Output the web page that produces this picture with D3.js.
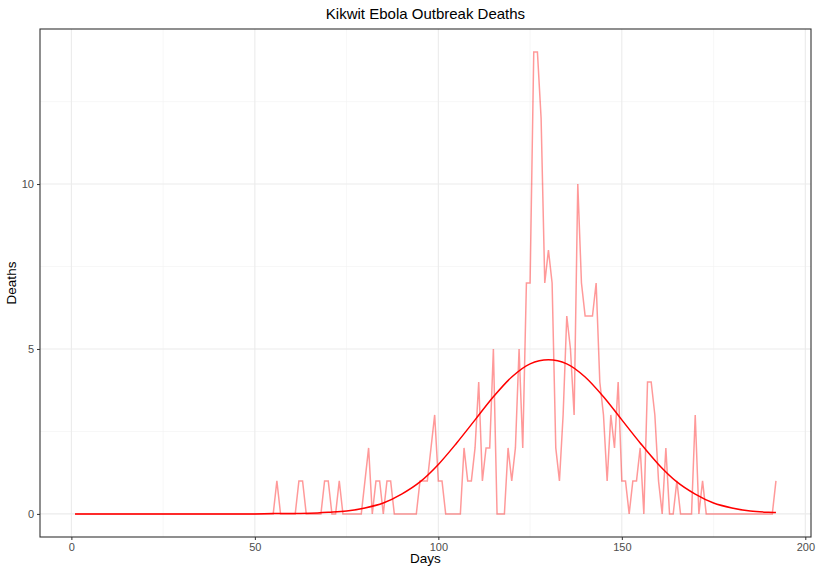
<!DOCTYPE html>
<html>
<head>
<meta charset="utf-8">
<script src="https://cdn.jsdelivr.net/npm/d3@7"></script>
<style>
  html, body { margin: 0; padding: 0; background: #fff; overflow: hidden; }
  svg { display: block; }
  text { font-family: "Liberation Sans", Arial, sans-serif; }
  .tick text { fill: #4d4d4d; font-size: 11px; }
  .axis-label { font-size: 13.5px; fill: #000; }
</style>
</head>
<body>
<div id="chart"></div>
<script>
// Daily deaths, day 1 .. day 192
const deaths = [
  0,0,0,0,0,0,0,0,0,0, 0,0,0,0,0,0,0,0,0,0,
  0,0,0,0,0,0,0,0,0,0, 0,0,0,0,0,0,0,0,0,0,
  0,0,0,0,0,0,0,0,0,0, 0,0,0,0,0,1,0,0,0,0,
  0,1,1,0,0,0,0,0,1,1, 0,0,1,0,0,0,0,0,0,1,
  2,0,1,1,0,1,1,0,0,0, 0,0,0,0,1,1,1,2,3,1,
  1,0,0,0,0,0,2,1,1,2, 4,1,2,2,5,0,0,0,2,1,
  2,5,2,7,7,14,14,12,7,8, 7,2,1,3,6,5,3,10,7,6,
  6,6,7,4,3,1,3,2,4,1, 1,0,1,1,2,0,4,4,3,1,
  0,2,0,0,1,0,0,0,0,3, 0,1,0,0,0,0,0,0,0,0,
  0,0,0,0,0,0,0,0,0,0, 0,1
];
const days = d3.range(1, deaths.length + 1);

// fitted curve
const fitDays = [1, 20, 40, 50, 55, 60, 65, 70, 75, 80, 85, 90, 95, 100, 105, 110, 115, 120, 125, 130,
                 135, 140, 145, 150, 155, 160, 165, 170, 175, 180, 185, 190, 192];
const fitValues = [0, 0, 0, 0, 0.01, 0.01, 0.02, 0.05, 0.09, 0.18, 0.33, 0.6, 0.97, 1.5, 2.15, 2.85, 3.55, 4.15, 4.55, 4.67,
                   4.55, 4.15, 3.55, 2.85, 2.15, 1.5, 0.97, 0.6, 0.33, 0.18, 0.09, 0.05, 0.04];

const xTicks = [0, 50, 100, 150, 200];
const xMinor = [25, 75, 125, 175];
const yTicks = [0, 5, 10];
const yMinor = [2.5, 7.5, 12.5];

const width = 816, height = 567;
const margin = { top: 29, right: 5, bottom: 30, left: 40 };
const innerWidth = width - margin.left - margin.right;
const innerHeight = height - margin.top - margin.bottom;

const svg = d3.select("#chart")
  .append("svg")
  .attr("width", width)
  .attr("height", height);

const inner = svg.append("g")
  .attr("transform", `translate(${margin.left},${margin.top})`);

// ggplot style 5% expansion
const xPad = (192 - 1) * 0.05;
const xScale = d3.scaleLinear()
  .domain([1 - xPad, 192 + xPad])
  .range([0, innerWidth]);

const yScale = d3.scaleLinear()
  .domain([-0.7, 14.7])
  .range([innerHeight, 0]);

// grid
inner.selectAll(".xminor").data(xMinor).join("line")
  .attr("x1", d => xScale(d)).attr("x2", d => xScale(d))
  .attr("y1", 0).attr("y2", innerHeight)
  .attr("stroke", "#f2f2f2").attr("stroke-width", 0.6);
inner.selectAll(".yminor").data(yMinor).join("line")
  .attr("y1", d => yScale(d)).attr("y2", d => yScale(d))
  .attr("x1", 0).attr("x2", innerWidth)
  .attr("stroke", "#f2f2f2").attr("stroke-width", 0.6);
inner.selectAll(".xmajor").data(xTicks).join("line")
  .attr("x1", d => xScale(d)).attr("x2", d => xScale(d))
  .attr("y1", 0).attr("y2", innerHeight)
  .attr("stroke", "#ebebeb").attr("stroke-width", 1.1);
inner.selectAll(".ymajor").data(yTicks).join("line")
  .attr("y1", d => yScale(d)).attr("y2", d => yScale(d))
  .attr("x1", 0).attr("x2", innerWidth)
  .attr("stroke", "#ebebeb").attr("stroke-width", 1.1);

// daily deaths
const line = d3.line()
  .x((d, i) => xScale(days[i]))
  .y(d => yScale(d));

inner.append("path")
  .datum(deaths)
  .attr("fill", "none")
  .attr("stroke", "red")
  .attr("stroke-opacity", 0.4)
  .attr("stroke-width", 1.5)
  .attr("d", line);

// fitted curve
const fitLine = d3.line()
  .x((d, i) => xScale(fitDays[i]))
  .y(d => yScale(d))
  .curve(d3.curveMonotoneX);

inner.append("path")
  .datum(fitValues)
  .attr("fill", "none")
  .attr("stroke", "red")
  .attr("stroke-width", 1.5)
  .attr("d", fitLine);

// panel border
inner.append("rect")
  .attr("width", innerWidth).attr("height", innerHeight)
  .attr("fill", "none").attr("stroke", "#333").attr("stroke-width", 1.1);

// axes
const bottomAxis = d3.axisBottom(xScale).tickValues(xTicks).tickSize(3).tickPadding(3);
const gx = inner.append("g")
  .attr("transform", `translate(0,${innerHeight})`)
  .call(bottomAxis);
gx.select(".domain").remove();
gx.selectAll(".tick line").attr("stroke", "#333");

const leftAxis = d3.axisLeft(yScale).tickValues(yTicks).tickSize(3).tickPadding(3);
const gy = inner.append("g").call(leftAxis);
gy.select(".domain").remove();
gy.selectAll(".tick line").attr("stroke", "#333");

// labels
svg.append("text")
  .text("Kikwit Ebola Outbreak Deaths")
  .attr("x", margin.left + innerWidth / 2)
  .attr("y", 19)
  .attr("text-anchor", "middle")
  .attr("font-size", 15)
  .attr("fill", "#000");

svg.append("text")
  .text("Days")
  .attr("class", "axis-label")
  .attr("x", margin.left + innerWidth / 2)
  .attr("y", 563)
  .attr("text-anchor", "middle");

svg.append("text")
  .text("Deaths")
  .attr("class", "axis-label")
  .attr("transform", `translate(16,${margin.top + innerHeight / 2}) rotate(-90)`)
  .attr("text-anchor", "middle");
</script>
</body>
</html>
